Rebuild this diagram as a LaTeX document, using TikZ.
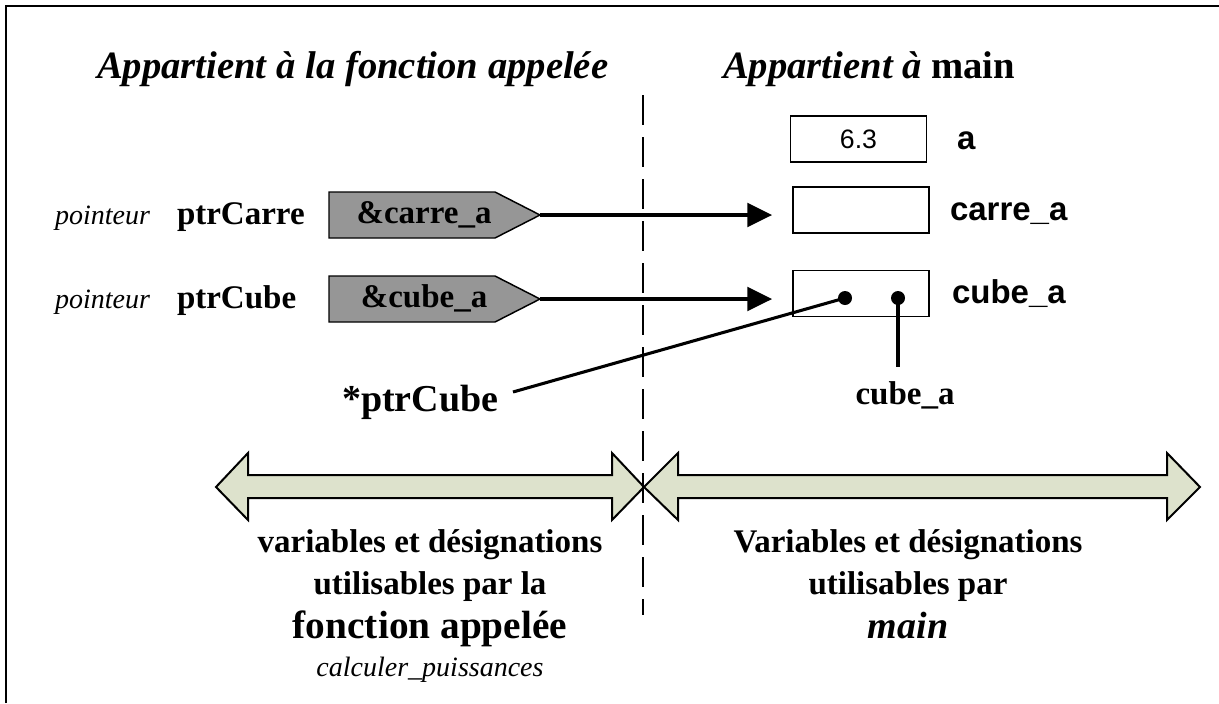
\documentclass[tikz,border=0pt]{standalone}
\usepackage{fontspec}
\setmainfont{Liberation Serif}
\setsansfont{Liberation Sans}
\usetikzlibrary{arrows.meta}

\definecolor{ptrgray}{RGB}{150,150,150}
\definecolor{scopefill}{RGB}{221,226,204}

% font presets
\newcommand\fTitle{\fontsize{29}{34}\selectfont\bfseries\itshape}
\newcommand\fBold{\fontsize{24.75}{30}\selectfont\bfseries}
\newcommand\fBig{\fontsize{29.5}{34}\selectfont\bfseries}
\newcommand\fNote{\fontsize{21}{25}\selectfont\itshape}
\newcommand\fSans{\fontsize{24.75}{30}\selectfont\sffamily\bfseries}

\tikzset{
  txt/.style={inner sep=0pt, outer sep=0pt},
  membox/.style={draw, line width=1.1pt, minimum width=102pt, minimum height=34.5pt,
                 inner sep=0pt, font=\fontsize{20}{24}\selectfont\sffamily},
  ptrshape/.style={draw, fill=ptrgray, line width=1.1pt, line join=miter},
  ptrarrow/.style={line width=3.4pt, -{Triangle[length=18.75pt,width=17.5pt]}, shorten >=15pt},
  link/.style={line width=2.3pt},
  dot/.style={circle, fill=black, inner sep=0pt, minimum size=10.5pt},
  scopearrow/.style={draw, fill=scopefill, line width=1.5pt, line join=miter},
  divider/.style={line width=1.9pt, dash pattern=on 22.5pt off 9pt},
  frameline/.style={line width=2pt}
}

\begin{document}
\begin{tikzpicture}[x=0.75pt,y=-0.75pt]
\useasboundingbox (0,0) rectangle (1219,703);

% outer frame (top and left sides)
\draw[frameline] (6,703) -- (6,6) -- (1219,6);

% column headings
\node[txt, anchor=base west] (headL) at (97,78) {\fTitle Appartient à la fonction appelée};
\node[txt, anchor=base west] (headR) at (723,78) {\fTitle Appartient à \upshape main};

% memory cells of main
\node[membox] (cellA) at (858.5,139) {6.3};
\node[membox] (cellCarre) at (861,210) {};
\node[membox] (cellCube) at (861,293.5) {};
\node[txt, anchor=base west] (nameA) at (957,149) {\fSans a};
\node[txt, anchor=base west] (nameCarre) at (950,220) {\fSans carre\_a};
\node[txt, anchor=base west] (nameCube) at (952,303) {\fSans cube\_a};

% pointer variables of the called function
\node[txt, anchor=base west] (kind1) at (55,224) {\fNote pointeur};
\node[txt, anchor=base west] (kind2) at (55,308) {\fNote pointeur};
\node[txt, anchor=base west] (ptr1) at (177,224) {\fBold ptrCarre};
\node[txt, anchor=base west] (ptr2) at (177,308) {\fBold ptrCube};

\draw[ptrshape] (329,192) -- (495,192) -- (540,215) -- (495,238) -- (329,238) -- cycle;
\draw[ptrshape] (329,276) -- (495,276) -- (540,299) -- (495,322) -- (329,322) -- cycle;
\coordinate (tip1) at (540,215);
\coordinate (tip2) at (540,299);
\node[txt, anchor=base] (val1) at (424,223) {\fBold \&carre\_a};
\node[txt, anchor=base] (val2) at (424,307) {\fBold \&cube\_a};

% scope arrows
\path[scopearrow] (216,487) -- (248,453) -- (248,475) -- (612,475) -- (612,453) -- (644,487)
  -- (612,520) -- (612,498) -- (248,498) -- (248,520) -- cycle;
\path[scopearrow] (644,487) -- (678,453) -- (678,475) -- (1167,475) -- (1167,453) -- (1200,487)
  -- (1167,520) -- (1167,498) -- (678,498) -- (678,520) -- cycle;

% boundary between the two functions
\draw[divider] (643,95) -- (643,615);

% pointer arrows
\draw[ptrarrow] (tip1) -- (tip1 -| cellCarre.west);
\draw[ptrarrow] (tip2) -- (tip2 -| cellCube.west);

% designations of cube_a
\node[dot] (d1) at (845,298) {};
\node[dot] (d2) at (898,298) {};
\node[txt, anchor=base west] (deref) at (342,411) {\fontsize{28.5}{34}\selectfont\bfseries *ptrCube};
\coordinate (derefEnd) at (513,392);
\coordinate (nameEnd) at (898,367);
\draw[link] (d1.center) -- (derefEnd);
\draw[link] (d2.center) -- (nameEnd);
\node[txt, anchor=base] (direct) at (905,404) {\fBold cube\_a};

% scope captions
\node[txt, anchor=base] (capL1) at (430,552) {\fBold variables et désignations};
\node[txt, anchor=base] (capL2) at (430,594) {\fBold utilisables par la};
\node[txt, anchor=base] (capL3) at (430,638) {\fBig fonction appelée};
\node[txt, anchor=base] (capL4) at (430,676) {\fNote calculer\_puissances};
\node[txt, anchor=base] (capR1) at (908,552) {\fBold Variables et désignations};
\node[txt, anchor=base] (capR2) at (908,594) {\fBold utilisables par};
\node[txt, anchor=base] (capR3) at (908,638) {\fontsize{28.5}{34}\selectfont\bfseries\itshape main};
\end{tikzpicture}
\end{document}
